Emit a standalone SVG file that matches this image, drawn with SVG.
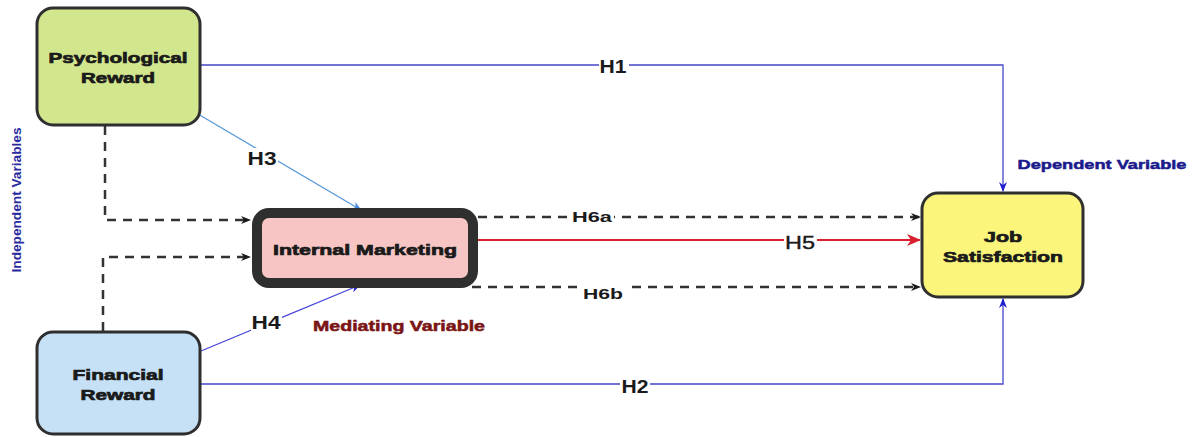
<svg xmlns="http://www.w3.org/2000/svg" width="1195" height="437" viewBox="0 0 1195 437">
<style>
.box{stroke:#2f2f2f;stroke-width:3}
.nt{font-family:"Liberation Sans",Arial,sans-serif;font-weight:bold;font-size:15px;fill:#1a1a1a;stroke:#1a1a1a;stroke-width:0.7;text-anchor:middle}
.lbl{font-family:"Liberation Sans",Arial,sans-serif;font-weight:bold;font-size:18px;fill:#1a1a1a;text-anchor:middle}
.dash{fill:none;stroke:#333;stroke-width:2.5;stroke-dasharray:9,7}
.blue{fill:none;stroke:#4646c8;stroke-width:1.3}
.ann{font-family:"Liberation Sans",Arial,sans-serif;font-weight:bold;text-anchor:middle}
</style>
<defs>
<marker id="ab" markerWidth="10" markerHeight="10" refX="9" refY="5" orient="auto" markerUnits="userSpaceOnUse"><path d="M0,1 L10,5 L0,9 L3,5 Z" fill="#1a1a1a"/></marker>
<marker id="abl" markerWidth="10" markerHeight="10" refX="9" refY="5" orient="auto" markerUnits="userSpaceOnUse"><path d="M0,1 L10,5 L0,9 L3,5 Z" fill="#2020d0"/></marker>
<marker id="alb" markerWidth="10" markerHeight="10" refX="9" refY="5" orient="auto" markerUnits="userSpaceOnUse"><path d="M0,1 L10,5 L0,9 L3,5 Z" fill="#4a8ad8"/></marker>
<marker id="ar" markerWidth="14" markerHeight="12" refX="13" refY="6" orient="auto" markerUnits="userSpaceOnUse"><path d="M0,0 L14,6 L0,12 L4,6 Z" fill="#d8202e"/></marker>
</defs>
<rect width="1195" height="437" fill="#ffffff"/>
<g id="connectors">
<path class="blue" d="M200,65 H1003 V191" marker-end="url(#abl)"/>
<path class="blue" d="M200,384 H1003 V299" marker-end="url(#abl)"/>
<path d="M198,114 L361,210" fill="none" stroke="#5a9ad8" stroke-width="1.3" marker-end="url(#alb)"/>
<path d="M201,351 L360,285" fill="none" stroke="#4646d8" stroke-width="1.3" marker-end="url(#abl)"/>
<path class="dash" d="M105,126 V220 H250" marker-end="url(#ab)"/>
<path class="dash" d="M103,331 V257 H250" marker-end="url(#ab)"/>
<path class="dash" d="M478,217 H920" marker-end="url(#ab)"/>
<path class="dash" d="M472,287 H920" marker-end="url(#ab)"/>
<path d="M478,240 H920" fill="none" stroke="#d8202e" stroke-width="2" marker-end="url(#ar)"/>
<rect x="599" y="56" width="30" height="18" fill="#fff"/>
<text class="lbl" x="613" y="73" textLength="27" lengthAdjust="spacingAndGlyphs">H1</text>
<rect x="620" y="376" width="30" height="18" fill="#fff"/>
<text class="lbl" x="635" y="393" textLength="27" lengthAdjust="spacingAndGlyphs">H2</text>
<rect x="247" y="148" width="31" height="18" fill="#fff"/>
<text class="lbl" x="262" y="165" textLength="29" lengthAdjust="spacingAndGlyphs">H3</text>
<rect x="251" y="313" width="31" height="18" fill="#fff"/>
<text class="lbl" x="266" y="329" textLength="29" lengthAdjust="spacingAndGlyphs">H4</text>
<rect x="784" y="232" width="33" height="18" fill="#fff"/>
<text class="lbl" x="800" y="249" style="font-size:19px;font-weight:normal;stroke:#1a1a1a;stroke-width:0.4" textLength="30" lengthAdjust="spacingAndGlyphs">H5</text>
<rect x="570" y="208" width="44" height="16" fill="#fff"/>
<text class="lbl" x="592" y="222" style="font-size:15px" textLength="40" lengthAdjust="spacingAndGlyphs">H6a</text>
<rect x="581" y="284" width="44" height="16" fill="#fff"/>
<text class="lbl" x="603" y="299" style="font-size:15px" textLength="40" lengthAdjust="spacingAndGlyphs">H6b</text>
</g>
<g id="psychological-reward">
<rect class="box" x="37" y="8" width="163" height="117" rx="16" fill="#d2e68e"/>
<text class="nt" x="118" y="63" textLength="139" lengthAdjust="spacingAndGlyphs">Psychological</text>
<text class="nt" x="118" y="83" textLength="74" lengthAdjust="spacingAndGlyphs">Reward</text>
</g>
<g id="financial-reward">
<rect class="box" x="37" y="332" width="163" height="102" rx="16" fill="#c6e0f6"/>
<text class="nt" x="118" y="380" textLength="91" lengthAdjust="spacingAndGlyphs">Financial</text>
<text class="nt" x="118" y="400" textLength="75" lengthAdjust="spacingAndGlyphs">Reward</text>
</g>
<g id="internal-marketing">
<rect x="257" y="213" width="216" height="70" rx="12" fill="#f7c6c4" stroke="#2f2f2f" stroke-width="10"/>
<text class="nt" x="365" y="255" textLength="184" lengthAdjust="spacingAndGlyphs">Internal Marketing</text>
</g>
<g id="job-satisfaction">
<rect class="box" x="922" y="193" width="161" height="104" rx="16" fill="#fbf57c"/>
<text class="nt" x="1003" y="242" textLength="38" lengthAdjust="spacingAndGlyphs">Job</text>
<text class="nt" x="1003" y="262" textLength="120" lengthAdjust="spacingAndGlyphs">Satisfaction</text>
</g>
<g id="annotations">
<text class="ann" x="1102" y="169" style="font-size:13px;fill:#1a1a8c;stroke:#1a1a8c;stroke-width:0.5" textLength="169" lengthAdjust="spacingAndGlyphs">Dependent Variable</text>
<text class="ann" x="399" y="331" style="font-size:14px;fill:#7a1414;stroke:#7a1414;stroke-width:0.5" textLength="172" lengthAdjust="spacingAndGlyphs">Mediating Variable</text>
<text class="ann" transform="translate(21,200) rotate(-90)" x="0" y="0" textLength="145" lengthAdjust="spacingAndGlyphs" style="font-size:12px;fill:#2a2aa0">Independent Variables</text>
</g>
</svg>
